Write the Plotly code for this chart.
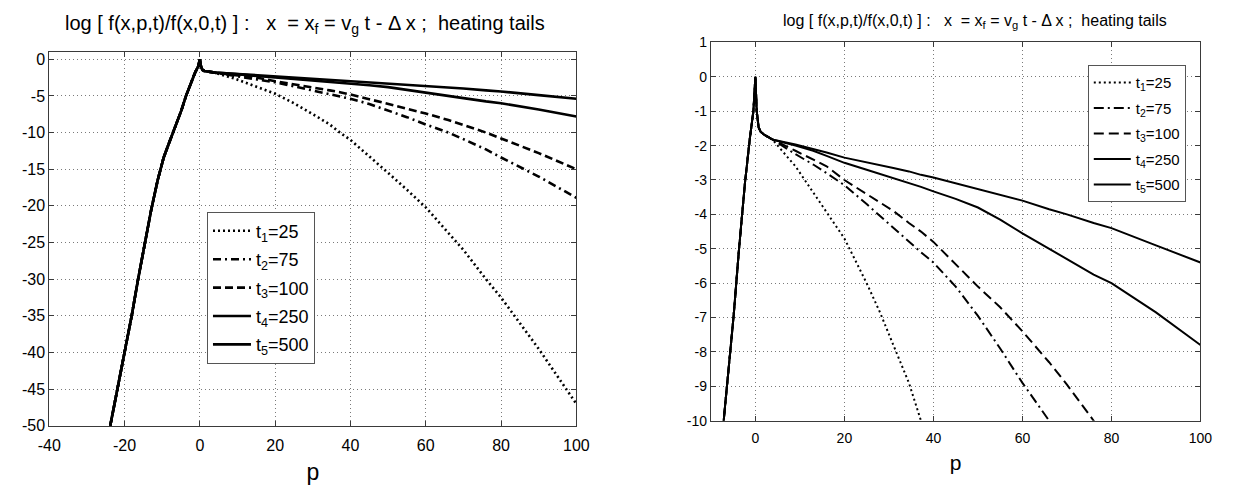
import plotly.graph_objects as go

# ---------------- data ----------------
# shared core of every curve: the steep rise for p<0, the narrow spike at p=0
p_core = [-23.8, -21.9, -19.9, -18.1, -16.4, -14.6, -12.9, -11.2, -9.6, -8.3, -7.1, -6.0, -4.9, -3.67,
          -2.35, -1.25, -0.45, 0.0, 0.3, 0.73, 1.2, 2.05]
y_core = [-50.0, -45.0, -40.0, -35.0, -30.0, -25.0, -20.5, -16.5, -13.4, -11.6, -10.0, -8.47, -6.97, -5.0,
          -3.1, -1.8, -1.0, 0.0, -1.0, -1.47, -1.6, -1.69]

# heating tails, p > 2
p_tail = [4, 9, 13, 16, 20, 25, 28, 31, 34.5, 37.2, 40, 45, 50, 55, 60, 66, 70, 76, 80, 90, 100]
t1_tail = [-1.85, -2.6, -3.35, -3.95, -4.7, -6.0, -6.85, -7.8, -8.9, -10.0, -11.0, -13.2, -15.5, -17.8,
           -20.2, -23.7, -26.0, -30.0, -32.5, -39.5, -47.0]
t2_tail = [-1.83, -2.25, -2.55, -2.8, -3.15, -3.7, -4.05, -4.4, -4.8, -5.1, -5.4, -6.1, -6.95, -7.9,
           -8.9, -10.0, -10.9, -12.3, -13.4, -16.0, -18.9]
t3_tail = [-1.83, -2.15, -2.4, -2.6, -3.0, -3.4, -3.65, -3.9, -4.25, -4.5, -4.8, -5.45, -6.1, -6.7,
           -7.4, -8.3, -8.95, -10.0, -10.8, -12.8, -15.0]
t4_tail = [-1.83, -2.0, -2.15, -2.3, -2.5, -2.7, -2.82, -2.93, -3.08, -3.2, -3.33, -3.55, -3.8, -4.15,
           -4.55, -5.0, -5.3, -5.75, -6.0, -6.85, -7.8]
t5_tail = [-1.83, -1.97, -2.1, -2.2, -2.35, -2.48, -2.56, -2.65, -2.75, -2.85, -2.93, -3.1, -3.25, -3.43,
           -3.6, -3.85, -4.0, -4.25, -4.4, -4.9, -5.4]

series_names = ["t<sub>1</sub>=25", "t<sub>2</sub>=75", "t<sub>3</sub>=100", "t<sub>4</sub>=250", "t<sub>5</sub>=500"]
tails = [t1_tail, t2_tail, t3_tail, t4_tail, t5_tail]

# ticks
left_xticks = [-40, -20, 0, 20, 40, 60, 80, 100]
left_yticks = [-50, -45, -40, -35, -30, -25, -20, -15, -10, -5, 0]
right_xticks = [0, 20, 40, 60, 80, 100]
right_yticks = [-10, -9, -8, -7, -6, -5, -4, -3, -2, -1, 0, 1]

title_text = ("log [ f(x,p,t)/f(x,0,t) ] :\u00a0\u00a0\u00a0x\u00a0\u00a0= x<sub>f</sub> = v<sub>g</sub> t - \u0394 x ;"
              "\u00a0\u00a0heating tails")

# ---------------- styles ----------------
left_dash = ["2px,3px", "8px,4px,2px,4px", "8px,4px", "solid", "solid"]
right_dash = ["2px,3px", "10px,4px,2px,4px", "10px,5px", "solid", "solid"]
FONT = "Liberation Sans, Arial, sans-serif"

fig = go.Figure()
px_total = p_core + p_tail
for i, (name, tail) in enumerate(zip(series_names, tails)):
    ys = y_core + tail
    fig.add_trace(go.Scatter(x=px_total, y=ys, mode="lines", name=name,
                             line=dict(color="black", width=2.6, dash=left_dash[i]),
                             xaxis="x", yaxis="y", legend="legend", legendgroup="L%d" % i))
for i, (name, tail) in enumerate(zip(series_names, tails)):
    ys = y_core + tail
    fig.add_trace(go.Scatter(x=px_total, y=ys, mode="lines", name=name,
                             line=dict(color="black", width=2.0, dash=right_dash[i]),
                             xaxis="x2", yaxis="y2", legend="legend2", legendgroup="R%d" % i))

W, H = 1236, 485
axcommon = dict(showline=True, linecolor="#3a3a3a", linewidth=1, mirror="ticks",
                ticks="inside", tickcolor="#3a3a3a", showgrid=True, gridcolor="#7a7a7a",
                griddash="1px,3px", gridwidth=1, zeroline=False)

fig.update_layout(
    width=W, height=H, margin=dict(l=0, r=0, t=0, b=0),
    paper_bgcolor="white", plot_bgcolor="white",
    font=dict(family=FONT, color="black"),
    xaxis=dict(domain=[38 / W, 576 / W], range=[-40, 100], anchor="y",
               tickvals=left_xticks, ticktext=[str(v) for v in left_xticks],
               tickfont=dict(size=16), ticklen=5, ticklabelstandoff=5,
               title=dict(text="p", font=dict(size=23), standoff=12), **axcommon),
    yaxis=dict(domain=[(H - 433) / H, (H - 45.5) / H], range=[-50, 1], anchor="x",
               tickvals=left_yticks, ticktext=[str(v) for v in left_yticks],
               tickfont=dict(size=16), ticklen=5, **axcommon),
    xaxis2=dict(domain=[713.3 / W, 1213 / W], range=[-10, 100], anchor="y2",
                tickvals=right_xticks, ticktext=[str(v) for v in right_xticks],
                tickfont=dict(size=14), ticklen=5, ticklabelstandoff=4,
                title=dict(text="p", font=dict(size=21), standoff=10), **axcommon),
    yaxis2=dict(domain=[(H - 427.7) / H, (H - 35.7) / H], range=[-10, 1], anchor="x2",
                tickvals=right_yticks, ticktext=[str(v) for v in right_yticks],
                tickfont=dict(size=14), ticklen=5, **axcommon),
    legend=dict(x=199 / W, y=1 - 211 / H, xanchor="left", yanchor="top",
                bgcolor="white", bordercolor="#555", borderwidth=1,
                font=dict(size=18), tracegroupgap=2, itemwidth=38),
    legend2=dict(x=1098 / W, y=1 - 59.3 / H, xanchor="left", yanchor="top",
                 bgcolor="white", bordercolor="#555", borderwidth=1,
                 font=dict(size=15), tracegroupgap=3, itemwidth=37),
    annotations=[
        dict(text=title_text, xref="x domain", yref="paper", x=0.485, y=1 - 17 / H,
             xanchor="center", yanchor="middle", showarrow=False, font=dict(size=20)),
        dict(text=title_text, xref="x2 domain", yref="paper", x=0.54, y=1 - 14 / H,
             xanchor="center", yanchor="middle", showarrow=False, font=dict(size=16)),
    ],
)

fig.write_html("out.html")
